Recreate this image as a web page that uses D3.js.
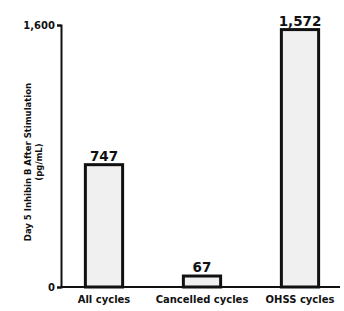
<!DOCTYPE html>
<html>
<head>
<meta charset="utf-8">
<script src="https://cdn.jsdelivr.net/npm/d3@7"></script>
<style>
  body { margin: 0; background: #fff; }
  text { font-family: "DejaVu Sans", sans-serif; font-weight: bold; fill: #111; }
</style>
</head>
<body>
<div id="chart"></div>
<script>
// data
var categories = ["All cycles", "Cancelled cycles", "OHSS cycles"];
var values = [747, 67, 1572];
var valueLabels = ["747", "67", "1,572"];
var tickValues = [0, 1600];
var tickLabels = ["0", "1,600"];

var width = 344, height = 311;

var svg = d3.select("#chart")
    .append("svg")
    .attr("width", width)
    .attr("height", height);

// scales
var x = d3.scaleBand()
    .domain(categories)
    .range([55, 349])
    .paddingInner(0.62)
    .paddingOuter(0.31);

var y = d3.scaleLinear()
    .domain([0, 1600])
    .range([287, 25]);

// bars
svg.selectAll(".bar")
    .data(values)
    .enter()
    .append("rect")
    .attr("class", "bar")
    .attr("x", function (d, i) { return x(categories[i]); })
    .attr("y", function (d) { return y(d); })
    .attr("width", x.bandwidth())
    .attr("height", function (d) { return y(0) - y(d); })
    .attr("fill", "#f0f0f0")
    .attr("stroke", "#111")
    .attr("stroke-width", 3);

// value labels
svg.selectAll(".val")
    .data(values)
    .enter()
    .append("text")
    .attr("class", "val")
    .attr("x", function (d, i) { return x(categories[i]) + x.bandwidth() / 2; })
    .attr("y", function (d) { return y(d) - 4; })
    .attr("text-anchor", "middle")
    .style("font-size", "13.5px")
    .text(function (d, i) { return valueLabels[i]; });

// baseline
svg.append("line")
    .attr("x1", 61).attr("x2", 340)
    .attr("y1", y(0)).attr("y2", y(0))
    .attr("stroke", "#111").attr("stroke-width", 2);

// y axis
var yAxis = svg.append("g")
    .attr("transform", "translate(61,0)")
    .call(d3.axisLeft(y).tickValues(tickValues).tickSize(4).tickPadding(2)
        .tickFormat(function (d, i) { return tickLabels[i]; }));
yAxis.select(".domain").attr("stroke", "#111").attr("stroke-width", 2);
yAxis.selectAll(".tick line").attr("stroke", "#111").attr("stroke-width", 2);
yAxis.selectAll(".tick text")
    .style("font-size", "10px")
    .style("font-family", "DejaVu Sans")
    .style("font-weight", "bold")
    .attr("fill", "#111");

// x labels
svg.selectAll(".cat")
    .data(categories)
    .enter()
    .append("text")
    .attr("class", "cat")
    .attr("x", function (d) { return x(d) + x.bandwidth() / 2; })
    .attr("y", 303)
    .attr("text-anchor", "middle")
    .style("font-size", "10px")
    .text(function (d) { return d; });

// y title
var title = svg.append("text")
    .attr("transform", "translate(31,162) rotate(-90)")
    .attr("text-anchor", "middle")
    .style("font-size", "8.5px");
title.append("tspan").attr("x", 0).attr("dy", 0).text("Day 5 Inhibin B After Stimulation");
title.append("tspan").attr("x", 0).attr("dy", 11).text("(pg/mL)");
</script>
</body>
</html>
